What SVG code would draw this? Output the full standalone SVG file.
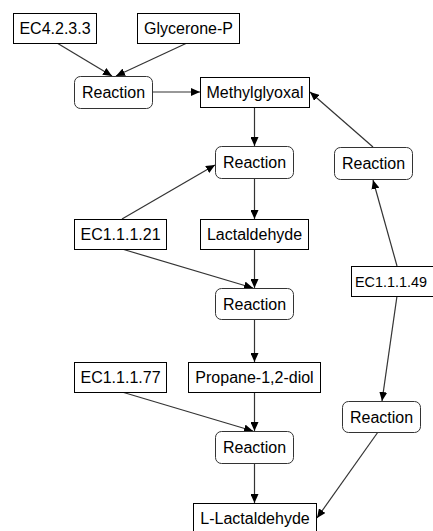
<svg xmlns="http://www.w3.org/2000/svg" width="433" height="531" viewBox="0 0 433 531">
<defs>
<marker id="arr" markerUnits="userSpaceOnUse" markerWidth="9" markerHeight="8" refX="9" refY="4" orient="auto">
<path d="M0,0 L9,4 L0,8 z" fill="#000"/>
</marker>
<style>
.box{fill:#fff;stroke:#000;stroke-width:1}
.rx{fill:#fff;stroke:#333;stroke-width:1}
text{font-family:"Liberation Sans",Arial,sans-serif;font-size:16px;fill:#000;text-anchor:middle}
.e{fill:none;stroke:#333;stroke-width:1.2;marker-end:url(#arr)}
</style>
</defs>
<rect width="433" height="531" fill="#fff"/>
<g id="edges">
<line class="e" x1="57" y1="43" x2="112" y2="76"/>
<line class="e" x1="187" y1="43" x2="116" y2="76"/>
<line class="e" x1="152" y1="92" x2="200" y2="92"/>
<line class="e" x1="254.5" y1="107" x2="254.5" y2="146"/>
<line class="e" x1="122" y1="219" x2="215" y2="165"/>
<line class="e" x1="254.5" y1="178" x2="254.5" y2="219"/>
<line class="e" x1="254.5" y1="249" x2="254.5" y2="288"/>
<line class="e" x1="122" y1="249" x2="253" y2="288"/>
<line class="e" x1="254.5" y1="319" x2="254.5" y2="362"/>
<line class="e" x1="254.5" y1="392" x2="254.5" y2="431"/>
<line class="e" x1="122" y1="392" x2="253" y2="431"/>
<line class="e" x1="254.5" y1="463" x2="254.5" y2="503"/>
<line class="e" x1="397" y1="266" x2="373" y2="180"/>
<line class="e" x1="373" y1="147" x2="310" y2="92"/>
<line class="e" x1="397" y1="296" x2="382" y2="401"/>
<line class="e" x1="378" y1="432" x2="317" y2="518"/>
</g>
<g id="ec4233"><rect class="box" x="13.5" y="13.5" width="83" height="30"/><text x="55" y="34">EC4.2.3.3</text></g>
<g id="glyceroneP"><rect class="box" x="137.5" y="13.5" width="102" height="30"/><text x="188.5" y="34">Glycerone-P</text></g>
<g id="reaction1"><rect class="rx" x="74.5" y="76.5" width="78" height="32" rx="6"/><text x="113.5" y="98">Reaction</text></g>
<g id="methylglyoxal"><rect class="box" x="200.5" y="77.5" width="109" height="30"/><text x="255" y="98">Methylglyoxal</text></g>
<g id="reaction2"><rect class="rx" x="215.5" y="146.5" width="78" height="32" rx="6"/><text x="254.5" y="168">Reaction</text></g>
<g id="reactionR1"><rect class="rx" x="334.5" y="147.5" width="78" height="32" rx="6"/><text x="373.5" y="169">Reaction</text></g>
<g id="ec11121"><rect class="box" x="74.5" y="219.5" width="92" height="30"/><text x="120.5" y="240">EC1.1.1.21</text></g>
<g id="lactaldehyde"><rect class="box" x="200.5" y="219.5" width="108" height="30"/><text x="254.5" y="240">Lactaldehyde</text></g>
<g id="reaction3"><rect class="rx" x="215.5" y="288.5" width="78" height="31" rx="6"/><text x="254.5" y="310">Reaction</text></g>
<g id="ec11149"><rect class="box" x="351.5" y="266.5" width="90" height="30"/><text x="355" y="287" style="text-anchor:start;font-size:15px" textLength="72" lengthAdjust="spacingAndGlyphs">EC1.1.1.49</text></g>
<g id="ec11177"><rect class="box" x="74.5" y="362.5" width="92" height="30"/><text x="120.5" y="383">EC1.1.1.77</text></g>
<g id="propanediol"><rect class="box" x="188.5" y="362.5" width="132" height="30"/><text x="254.5" y="383">Propane-1,2-diol</text></g>
<g id="reaction4"><rect class="rx" x="215.5" y="431.5" width="78" height="32" rx="6"/><text x="254.5" y="453">Reaction</text></g>
<g id="reactionR2"><rect class="rx" x="342.5" y="401.5" width="78" height="31" rx="6"/><text x="381.5" y="423">Reaction</text></g>
<g id="llactaldehyde"><rect class="box" x="193.5" y="503.5" width="123" height="30"/><text x="255" y="524">L-Lactaldehyde</text></g>
</svg>
